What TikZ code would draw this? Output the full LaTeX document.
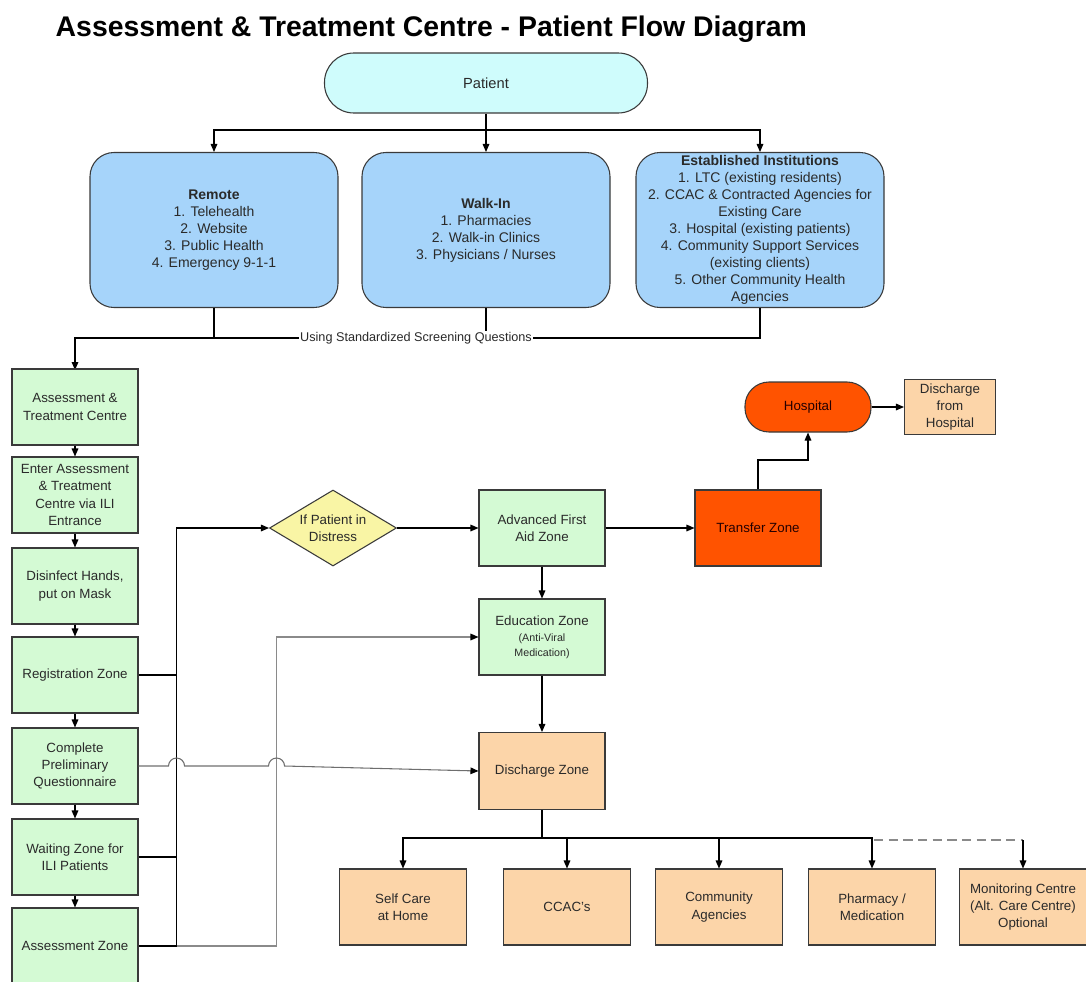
\documentclass[tikz,border=0pt]{standalone}
\usepackage{fontspec}
\setmainfont{Liberation Sans}
\usetikzlibrary{arrows.meta,shapes.geometric}
\definecolor{patientfill}{HTML}{CFFCFC}
\definecolor{sourcefill}{HTML}{A6D4FA}
\definecolor{zonefill}{HTML}{D4FAD4}
\definecolor{askfill}{HTML}{F9F5A5}
\definecolor{urgentfill}{HTML}{FF5300}
\definecolor{outfill}{HTML}{FCD5A9}
\definecolor{edgeline}{HTML}{3A3A3A}
\definecolor{bodytext}{HTML}{2A2A2A}
\definecolor{softline}{HTML}{8A8A8A}
\begin{document}
\begin{tikzpicture}[x=0.75pt,y=-0.75pt,
    box/.style={draw=edgeline,line width=0.8pt,align=center,text=bodytext,
      font=\fontsize{10}{13}\selectfont,inner sep=1pt},
    source/.style={box,fill=sourcefill,rounded corners=18pt,
      minimum width=248*0.75pt,minimum height=155*0.75pt,
      font=\fontsize{10.5}{12.75}\selectfont},
    zone/.style={box,fill=zonefill,minimum width=126*0.75pt,minimum height=76*0.75pt},
    outcome/.style={box,fill=outfill,minimum width=127*0.75pt,minimum height=76*0.75pt},
    arr/.style={-{Triangle[length=6pt,width=5pt,color=black]}},
    link/.style={line width=0.8pt,black}]
    \useasboundingbox (0,0) rectangle (1086,982);
    % the title
    \node[anchor=base west,font=\fontsize{21.3}{24}\bfseries\selectfont] (title) at (51,36)
      {Assessment \& Treatment Centre - Patient Flow Diagram};
    % the patient and where they come from
    \node[box,fill=patientfill,rounded corners=22pt,minimum width=323*0.75pt,
      minimum height=60*0.75pt,font=\fontsize{11}{13}\selectfont] (patient) at (486,83) {Patient};
    \node[source] (remote) at (214,230) {\textbf{Remote}\\1. Telehealth\\2. Website\\3. Public Health\\4. Emergency 9-1-1};
    \node[source] (walkin) at (486,230) {\textbf{Walk-In}\\1. Pharmacies\\2. Walk-in Clinics\\3. Physicians / Nurses};
    \node[source] (estab) at (760,230) {\textbf{Established Institutions}\\1. LTC (existing residents)\\2. CCAC \& Contracted Agencies for\\Existing Care\\3. Hospital (existing patients)\\4. Community Support Services\\(existing clients)\\5. Other Community Health\\Agencies};
    \coordinate (fork) at (486,130);
    \draw[link,arr] (patient.south) -- (walkin.north);
    \draw[link,arr] (fork) -| (remote.north);
    \draw[link,arr] (fork) -| (estab.north);
    % screening line
    \node[fill=white,text=bodytext,font=\fontsize{9.5}{11}\selectfont,inner sep=1pt] (screen) at (416,338)
      {Using Standardized Screening Questions};
    \coordinate (split) at (214,338);
    \draw[link] (remote.south) -- (split);
    \draw[link] (walkin.south) -- (walkin.south |- screen.north);
    \draw[link] (estab.south) |- (screen.east);
    \draw[link,arr] (screen.west) -- (split) -| (75,370);
    % the left column
    \node[zone] (atc) at (75,407) {Assessment \&\\Treatment Centre};
    \node[zone] (enter) at (75,495) {Enter Assessment\\\& Treatment\\Centre via ILI\\Entrance};
    \node[zone] (mask) at (75,586) {Disinfect Hands,\\put on Mask};
    \node[zone] (reg) at (75,675) {Registration Zone};
    \node[zone] (quest) at (75,766) {Complete\\Preliminary\\Questionnaire};
    \node[zone] (wait) at (75,857) {Waiting Zone for\\ILI Patients};
    \node[zone] (assess) at (75,946) {Assessment Zone};
    \foreach \a/\b in {atc/enter,enter/mask,mask/reg,reg/quest,quest/wait,wait/assess}
      \draw[link,arr] (\a.south) -- (\b.north);
    % the middle row
    \node[box,diamond,fill=askfill,aspect=1.67,inner sep=0pt,minimum width=127*0.75pt,
      minimum height=76*0.75pt] (distress) at (333,528) {If Patient in\\Distress};
    \node[zone] (aid) at (542,528) {Advanced First\\Aid Zone};
    \node[zone] (edu) at (542,637) {Education Zone\\[-1pt]{\fontsize{8}{10}\selectfont (Anti-Viral}\\[-2pt]{\fontsize{8}{10}\selectfont Medication)}};
    \node[outcome,minimum width=126*0.75pt,minimum height=77*0.75pt] (dis) at (542,771) {Discharge Zone};
    \node[box,fill=urgentfill,minimum width=126*0.75pt,minimum height=76*0.75pt,text=black!85!red] (transfer) at (758,528) {Transfer Zone};
    \node[box,fill=urgentfill,rounded corners=18pt,minimum width=126*0.75pt,
      minimum height=50*0.75pt,text=black!85!red] (hosp) at (808,407) {Hospital};
    \node[outcome,minimum width=91*0.75pt,minimum height=55*0.75pt] (dishosp) at (950,407) {Discharge\\from\\Hospital};
    % connectors from the left column
    \draw[softline,line width=0.8pt,arr] (assess.east) -- ++(138,0) |- (edu.west);
    \draw[link,line width=1.1pt] (assess.east) -- ++(38,0) coordinate (bus);
    \draw[link] (reg.east) -- (reg.east -| bus);
    \draw[link] (wait.east) -- (wait.east -| bus);
    \draw[link,arr] (bus) |- (distress.west);
    \draw[softline!80!black,line width=0.8pt,arr] (quest.east) -- ++(30,0)
      arc[start angle=180,end angle=0,radius=6pt] -- ++(84,0)
      arc[start angle=180,end angle=0,radius=6pt] -- (dis.west);
    \draw[link,arr] (distress.east) -- (aid.west);
    \draw[link,arr] (aid.east) -- (transfer.west);
    \draw[link,arr] (aid.south) -- (edu.north);
    \draw[link,arr] (edu.south) -- (dis.north);
    \draw[link,arr] (transfer.north) -- (758,460) -| (hosp.south);
    \draw[link,arr] (hosp.east) -- (dishosp.west);
    % where the patient goes
    \node[outcome] (home) at (403,907) {Self Care\\at Home};
    \node[outcome] (ccac) at (567,907) {CCAC's};
    \node[outcome] (comm) at (719,907) {Community\\Agencies};
    \node[outcome] (pharm) at (872,907) {Pharmacy /\\Medication};
    \node[outcome] (monitor) at (1023,907) {Monitoring Centre\\(Alt. Care Centre)\\Optional};
    \coordinate (dfork) at (542,838);
    \draw[link,line width=1.4pt] (dis.south) -- (dfork);
    \foreach \n in {home,ccac,comm,pharm}
      \draw[link,arr] (dfork) -| (\n.north);
    \draw[softline,line width=1.4pt,dash pattern=on 7pt off 4pt] (874,840) -- (1023,840);
    \draw[link,arr] (1023,840) -- (monitor.north);
\end{tikzpicture}
\end{document}
